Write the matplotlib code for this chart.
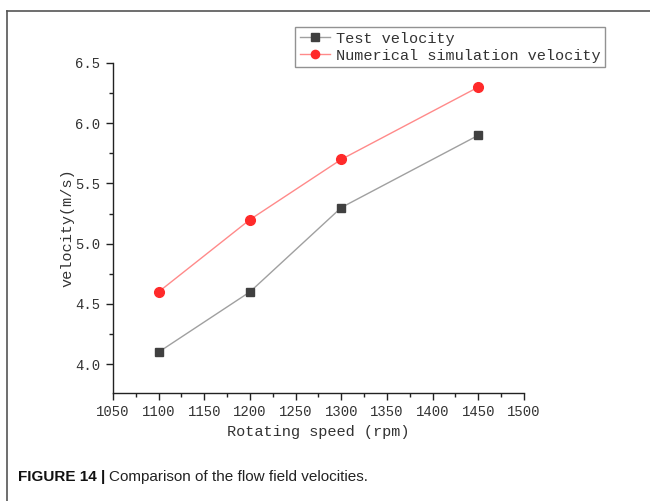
import matplotlib
matplotlib.use('Agg')
import matplotlib.pyplot as plt
from matplotlib.lines import Line2D
from matplotlib.ticker import MultipleLocator, FormatStrFormatter

# rotating speed (rpm) and measured / simulated velocity (m/s)
speed = [1100, 1200, 1300, 1450]
test_velocity = [4.1, 4.6, 5.3, 5.9]
sim_velocity = [4.6, 5.2, 5.7, 6.3]

mono = 'Liberation Mono'
sans = 'Liberation Sans'

fig = plt.figure(figsize=(6.5, 5.01), dpi=100)
ax = fig.add_axes([113 / 650, 1 - 393 / 501, (524 - 113) / 650, (393 - 63) / 501])

ax.plot(speed, test_velocity, color='#a0a0a0', lw=1.0, marker='s', ms=6,
        mfc='#404040', mec='#404040', label='Test velocity')
ax.plot(speed, sim_velocity, color='#ff8a8a', lw=1.0, marker='o', ms=7,
        mfc='#ff2a2a', mec='#ff2a2a', label='Numerical simulation velocity')

ax.set_xlim(1050, 1500)
ax.set_ylim(3.76, 6.5)
ax.xaxis.set_major_locator(MultipleLocator(50))
ax.xaxis.set_minor_locator(MultipleLocator(25))
ax.yaxis.set_major_locator(MultipleLocator(0.5))
ax.yaxis.set_minor_locator(MultipleLocator(0.25))
ax.yaxis.set_major_formatter(FormatStrFormatter('%.1f'))

for s in ['top', 'right']:
    ax.spines[s].set_visible(False)
for s in ['left', 'bottom']:
    ax.spines[s].set_color('#222222')
    ax.spines[s].set_linewidth(1.0)

ax.tick_params(which='major', direction='out', length=5, width=1, color='#222222',
               labelsize=10, labelcolor='#333333', pad=4)
ax.tick_params(which='minor', direction='out', length=3, width=1, color='#222222')
for lab in ax.get_xticklabels() + ax.get_yticklabels():
    lab.set_family(mono)

ax.set_xlabel('Rotating speed (rpm)', fontfamily=mono, fontsize=11, color='#333333', labelpad=4)
ax.set_ylabel('velocity(m/s)', fontfamily=mono, fontsize=11, color='#333333', labelpad=1)

leg = fig.legend(loc='upper left', bbox_to_anchor=(295 / 650, 1 - 27 / 501),
                 prop={'family': mono, 'size': 11}, frameon=True, fancybox=False,
                 borderpad=0.3, handlelength=2.0, handletextpad=0.4, labelspacing=0.2,
                 borderaxespad=0, markerscale=0.85)
leg.get_frame().set_edgecolor('#777777')
leg.get_frame().set_linewidth(1.0)
for t in leg.get_texts():
    t.set_color('#333333')

# page frame around the figure panel
fig.add_artist(Line2D([7 / 650, 1], [1 - 11 / 501, 1 - 11 / 501], color='#555555', lw=1.2))
fig.add_artist(Line2D([7 / 650, 7 / 650], [0, 1 - 11 / 501], color='#555555', lw=1.2))

# caption: bold label followed by the plain sentence
cap_y = 1 - 477 / 501
head = fig.text(18 / 650, cap_y, 'FIGURE 14 |', fontfamily=sans,
                fontweight='bold', fontsize=11, va='center', ha='left', color='#111111')
fig.canvas.draw()
bb = head.get_window_extent()
fig.text((bb.x1 + 4) / 650, cap_y, 'Comparison of the flow field velocities.',
         fontfamily=sans, fontsize=11, va='center', ha='left', color='#222222')

fig.savefig('out.png', dpi=100)
